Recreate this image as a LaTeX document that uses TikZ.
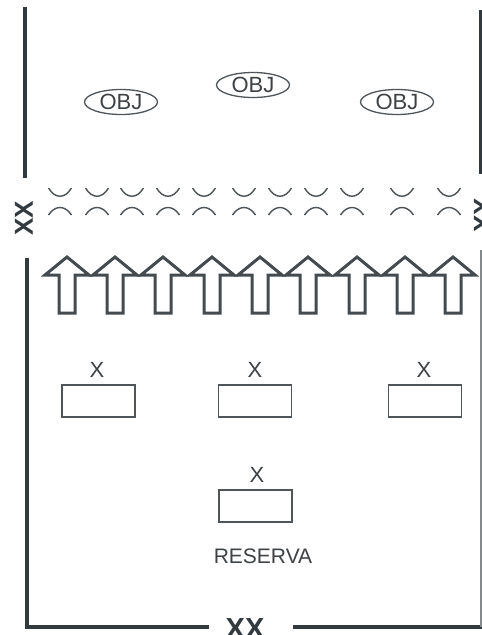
\documentclass[tikz,border=0pt]{standalone}
\usepackage{fontspec}
\setmainfont{Liberation Sans}
\usetikzlibrary{shapes.geometric}
\begin{document}
\begin{tikzpicture}[x=1pt,y=-1pt,
  frame/.style={line width=4pt,draw=framecol},
  arcline/.style={line width=1.4pt,draw=arccol},
  blockarrow/.style={line width=3pt,draw=arrowcol,fill=white,line join=miter},
  objnode/.style={ellipse,draw=boxcol,line width=1.3pt,minimum width=73pt,minimum height=25pt,inner sep=0pt,text=txtcol,font=\fontsize{22}{22}\selectfont},
  boxnode/.style={rectangle,draw=boxcol,line width=1.3pt,minimum width=73pt,minimum height=32pt,inner sep=0pt},
  lbl/.style={text=txtcol,font=\fontsize{22}{22}\selectfont,inner sep=0pt},
  bigx/.style={text=framecol,font=\bfseries\fontsize{29}{29}\selectfont,inner sep=0pt}
]
\definecolor{framecol}{HTML}{323A3F}
\definecolor{arccol}{HTML}{4E5357}
\definecolor{arrowcol}{HTML}{444A4E}
\definecolor{boxcol}{HTML}{50555A}
\definecolor{txtcol}{HTML}{3E4245}
\useasboundingbox[fill=white] (0,0) rectangle (482,635);

% frame lines
\coordinate (lt1) at (25,7);
\coordinate (lt2) at (25,178);
\coordinate (rt1) at (481,10);
\coordinate (rt2) at (481,174);
\coordinate (lb1) at (27,260);
\coordinate (lb2) at (27,627);
\coordinate (bl2) at (207,627);
\coordinate (br1) at (293,627);
\coordinate (br2) at (484,627);
\coordinate (rb1) at (481,250);
\coordinate (rb2) at (481,627);
\draw[frame] (lt1) -- (lt2);
\draw[frame] (rt1) -- (rt2);
\draw[frame,line cap=rect] (lb1) -- (lb2) -- (bl2);
\draw[frame] (br1) -- (br2);
\draw[frame,line width=2pt,draw=framecol!60] (rb1) -- (rb2);

% XX labels
\node[bigx,rotate=90,font=\bfseries\fontsize{26}{26}\selectfont] (xxl) at (24,218) {XX};
\node[bigx,rotate=90,font=\bfseries\fontsize{26}{26}\selectfont] (xxr) at (483,215) {XX};
\node[bigx,anchor=base] (xxb) at (245,638) {XX};

% objectives
\node[objnode] (obj1) at (121,102) {OBJ};
\node[objnode] (obj2) at (253,85) {OBJ};
\node[objnode] (obj3) at (397,102) {OBJ};

% obstacle arcs
\foreach \cx in {60,97,132,168,204,244,280,316,352,402,449}{
  \draw[arcline] (\cx-11.5,188) .. controls (\cx-5,199) and (\cx+5,199) .. (\cx+11.5,188);
  \draw[arcline] (\cx-11.5,215) .. controls (\cx-5,205) and (\cx+5,205) .. (\cx+11.5,215);
}

% block arrows
\foreach \cx in {67,115,163,212,260,308,357,405,453}{
  \draw[blockarrow] (\cx,257) -- (\cx+22,275) -- (\cx+8,275) -- (\cx+8,313)
     -- (\cx-8,313) -- (\cx-8,275) -- (\cx-22,275) -- cycle;
}

% units
\node[boxnode] (b1) at (98.5,401) {};
\node[boxnode] (b2) at (255,401) {};
\node[boxnode] (b3) at (425,401) {};
\node[lbl] (x1) at (97,370) {X};
\node[lbl] (x2) at (255,370) {X};
\node[lbl] (x3) at (424,370) {X};

\node[boxnode] (b4) at (255.5,506) {};
\node[lbl] (x4) at (257,475) {X};
\node[lbl,font=\fontsize{21}{21}\selectfont] (res) at (263,556) {RESERVA};
\end{tikzpicture}
\end{document}
